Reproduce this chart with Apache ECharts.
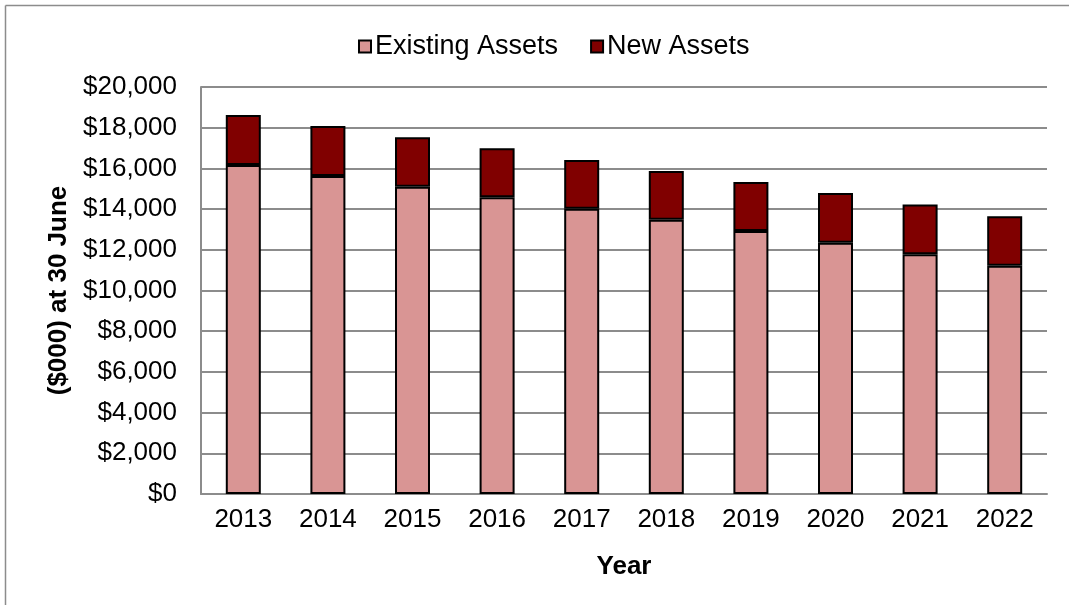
<!DOCTYPE html>
<html>
<head>
<meta charset="utf-8">
<script src="https://cdn.jsdelivr.net/npm/echarts@6/dist/echarts.min.js"></script>
<style>
  html, body { margin: 0; padding: 0; background: #fff; }
  #main { width: 1069px; height: 605px; }
</style>
</head>
<body>
<div id="main"></div>
<script>
var years = ['2013', '2014', '2015', '2016', '2017', '2018', '2019', '2020', '2021', '2022'];
var existingAssets = [16170, 15630, 15100, 14580, 14020, 13480, 12920, 12350, 11780, 11220];
var newAssets = [2450, 2450, 2430, 2410, 2390, 2390, 2410, 2440, 2440, 2430];

var myChart = echarts.init(document.getElementById('main'));

var fontFam = '"Liberation Sans", Arial, sans-serif';

var option = {
  animation: false,
  textStyle: { fontFamily: fontFam },
  // outer chart frame (only top and left edges are visible in the source)
  graphic: [
    {
      type: 'line',
      shape: { x1: 5.5, y1: 5.5, x2: 1069, y2: 5.5 },
      style: { stroke: '#8c8c8c', lineWidth: 1.5 },
      silent: true
    },
    {
      type: 'line',
      shape: { x1: 5.5, y1: 5.5, x2: 5.5, y2: 605 },
      style: { stroke: '#8c8c8c', lineWidth: 1.5 },
      silent: true
    }
  ],
  legend: {
    data: ['Existing Assets', 'New Assets'],
    top: 28,
    left: 353,
    icon: 'rect',
    itemWidth: 12,
    itemHeight: 12,
    itemGap: 32,
    textStyle: { fontSize: 27, color: '#000', fontFamily: fontFam, padding: [0, 0, 0, -1] }
  },
  grid: {
    left: 201,
    right: 22,
    top: 87,
    bottom: 111
  },
  xAxis: {
    type: 'category',
    data: years,
    name: 'Year',
    nameLocation: 'middle',
    nameGap: 60,
    nameTextStyle: { fontSize: 26, fontWeight: 'bold', color: '#000', fontFamily: fontFam },
    axisLine: { lineStyle: { color: '#8c8c8c', width: 2 } },
    axisTick: { show: false },
    axisLabel: { fontSize: 26, color: '#000', margin: 13, fontFamily: fontFam }
  },
  yAxis: {
    type: 'value',
    min: 0,
    max: 20000,
    interval: 2000,
    name: '($000) at 30 June',
    nameLocation: 'middle',
    nameGap: 125,
    nameTextStyle: { fontSize: 26, fontWeight: 'bold', color: '#000', fontFamily: fontFam },
    axisLine: { show: true, lineStyle: { color: '#8c8c8c', width: 2 } },
    axisTick: { show: false },
    splitLine: { lineStyle: { color: '#8c8c8c', width: 2 } },
    axisLabel: {
      fontSize: 26,
      color: '#000',
      margin: 24,
      fontFamily: fontFam,
      formatter: function (v) {
        return '$' + v.toLocaleString('en-US');
      }
    }
  },
  series: [
    {
      name: 'Existing Assets',
      type: 'bar',
      stack: 'total',
      barWidth: 35,
      data: existingAssets,
      itemStyle: { color: '#D99594', borderColor: '#000', borderWidth: 2 }
    },
    {
      name: 'New Assets',
      type: 'bar',
      stack: 'total',
      barWidth: 35,
      data: newAssets,
      itemStyle: { color: '#800000', borderColor: '#000', borderWidth: 2 }
    }
  ]
};

myChart.setOption(option);
</script>
</body>
</html>
